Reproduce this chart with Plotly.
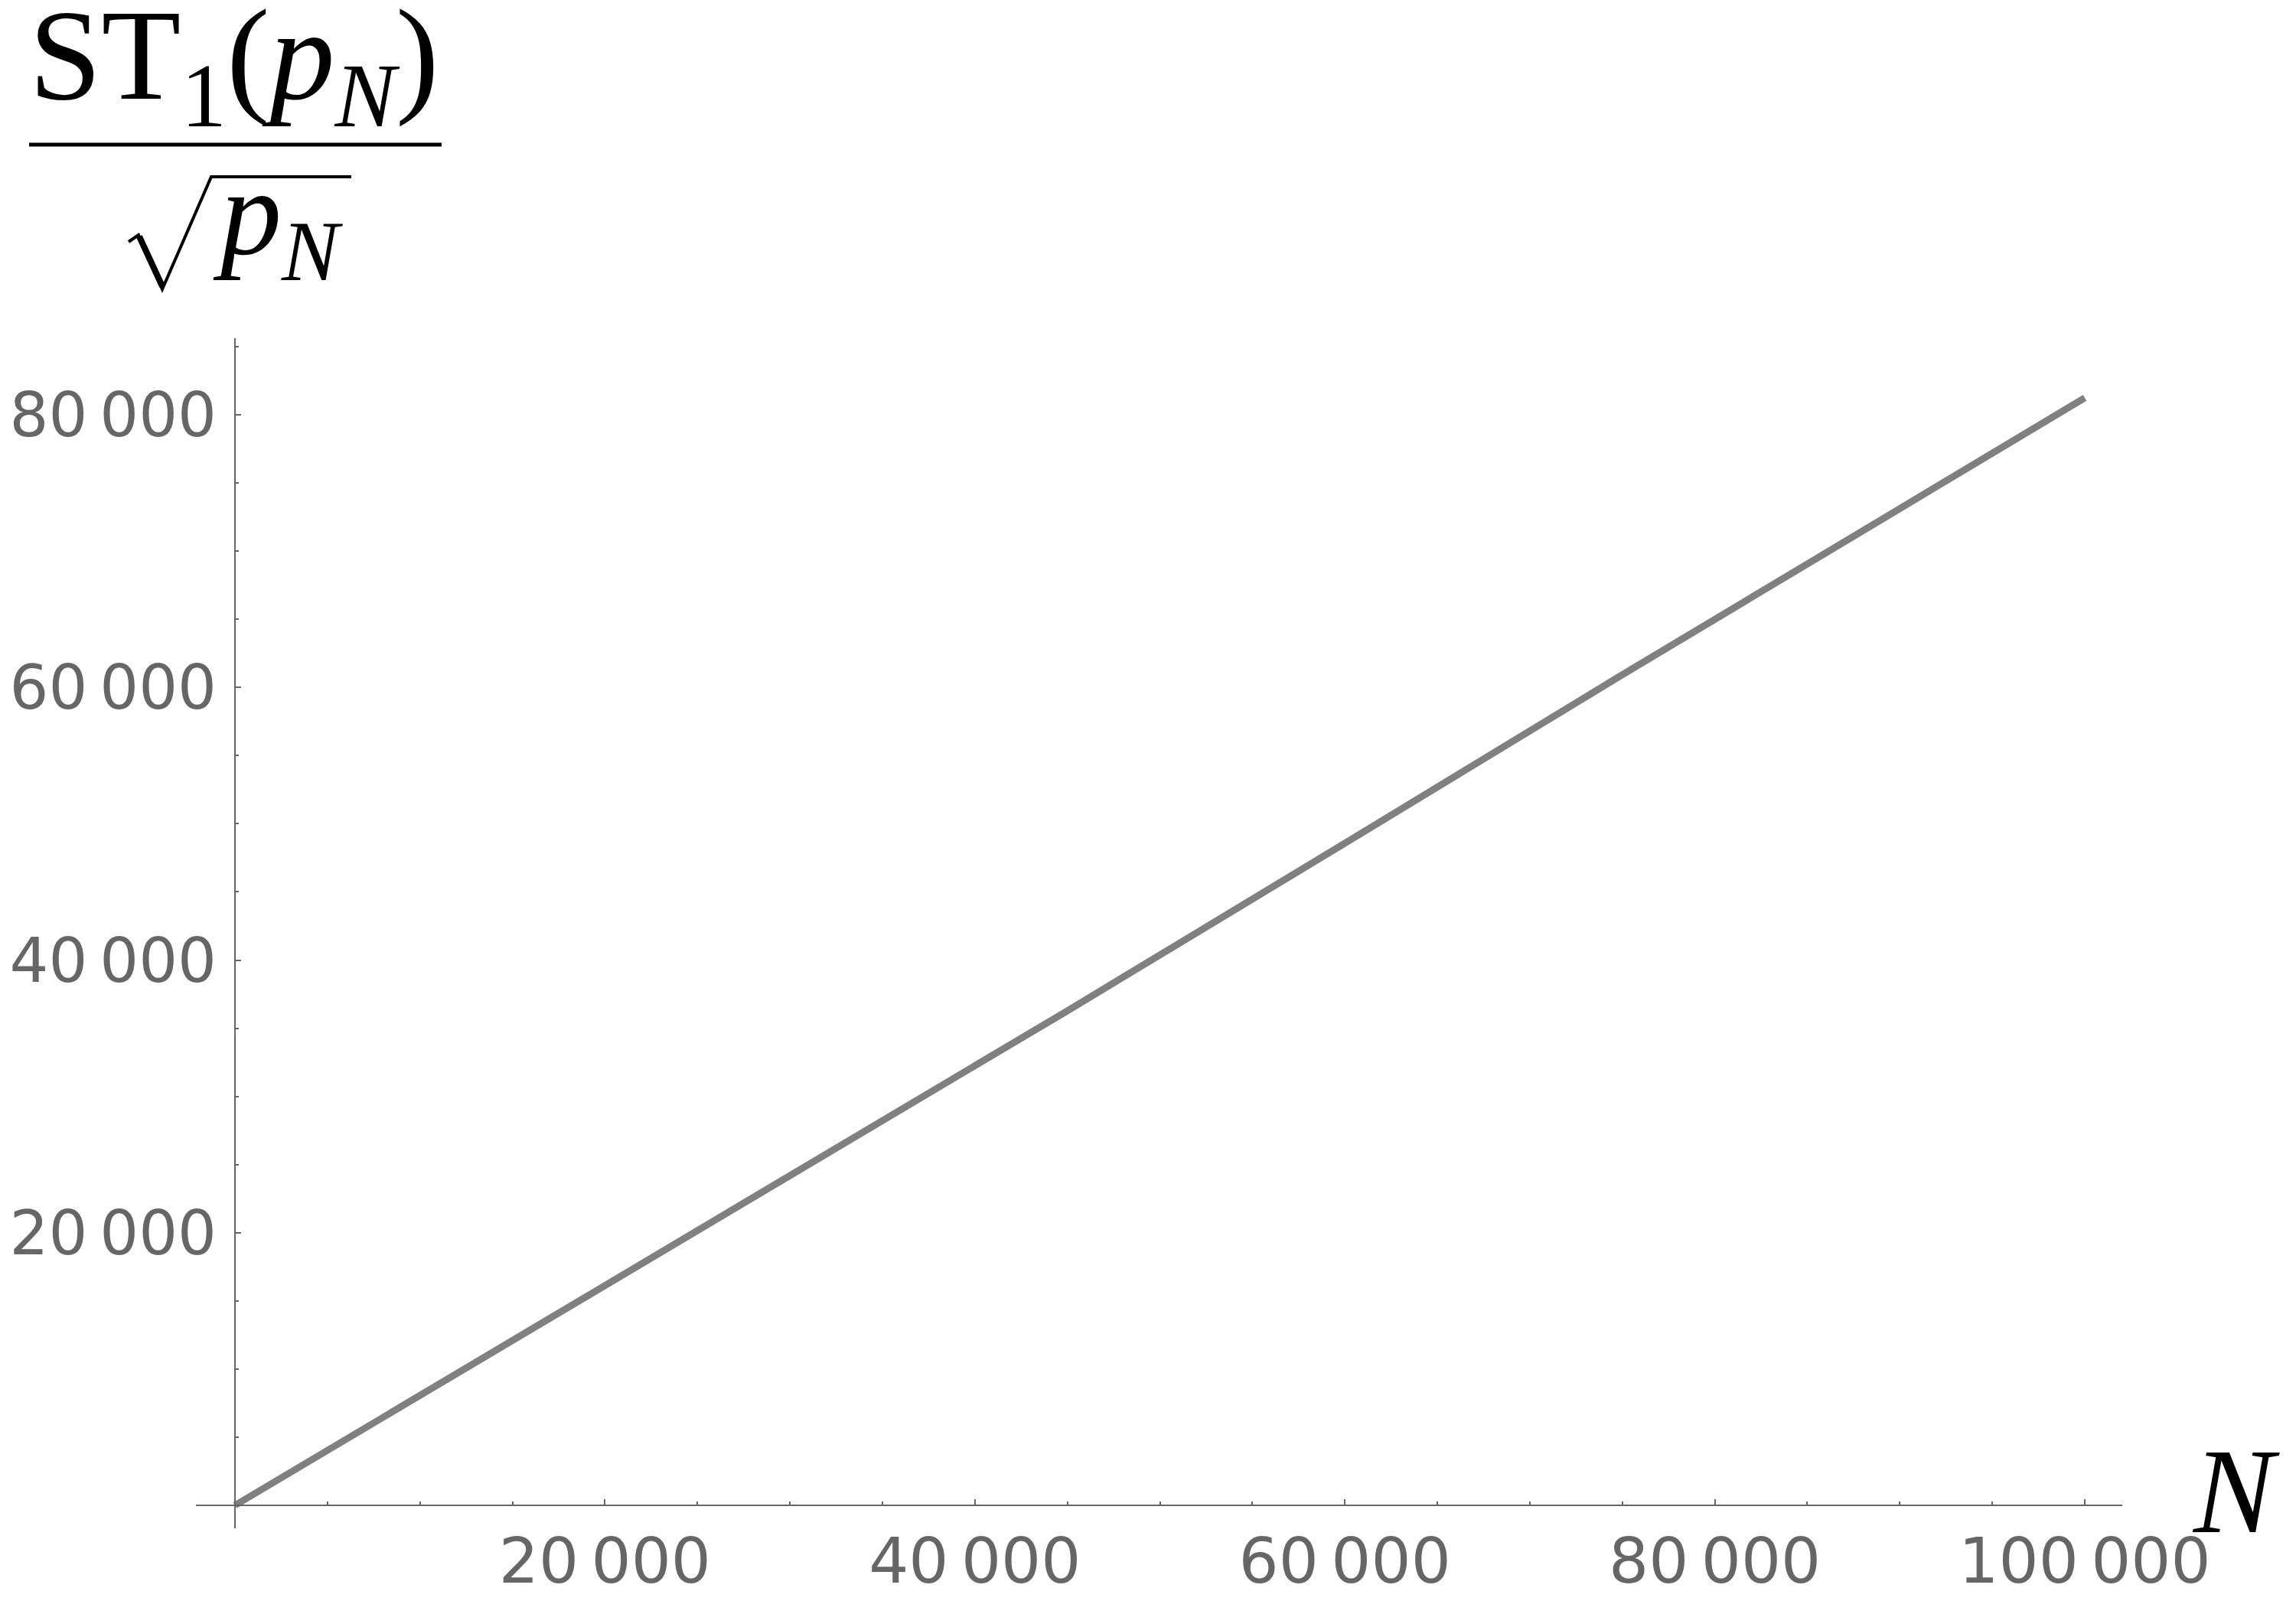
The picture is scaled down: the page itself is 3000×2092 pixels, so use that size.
import plotly.graph_objects as go

# Data (N vs ST_1(p_N)/sqrt(p_N))
n_vals = [0, 15000, 30000, 45000, 60000, 75000, 90000, 100000]
st_vals = [0, 12070, 24090, 36280, 48570, 60930, 73120, 81240]

x_ticks = [20000, 40000, 60000, 80000, 100000]
x_tick_text = ['20\u2009000', '40\u2009000', '60\u2009000', '80\u2009000', '100\u2009000']
y_ticks = [20000, 40000, 60000, 80000]
y_tick_text = ['20\u2009000', '40\u2009000', '60\u2009000', '80\u2009000']

W, H = 3000, 2092
OFF = 8  # default body margin of the html page
# plot area in page pixels
L, R, T, B = 256, 2773, 442, 1997
x_range = [-2110, 102027]
y_range = [-1684, 85614]

axis_col = '#666666'
serif = 'Liberation Serif, Times New Roman, serif'

# pixel -> paper helpers for the decorations (y label fraction, N label)
def px(x):
    return (x - L) / (R - L)

def py(y):
    return (B - y) / (B - T)

fig = go.Figure()
fig.add_trace(go.Scatter(x=n_vals, y=st_vals, mode='lines',
    line=dict(color='#808080', width=9), hoverinfo='skip', showlegend=False))

x_pos = (0 - x_range[0]) / (x_range[1] - x_range[0])
y_pos = (0 - y_range[0]) / (y_range[1] - y_range[0])

minor = dict(dtick=5000, tick0=0, ticks='inside', ticklen=4, tickwidth=2, tickcolor=axis_col)

fig.update_xaxes(range=x_range, anchor='free', position=y_pos, automargin=False,
    showgrid=False, zeroline=False, showline=True, linecolor=axis_col, linewidth=2,
    tickmode='array', tickvals=x_ticks, ticktext=x_tick_text,
    ticks='inside', ticklen=7, tickwidth=2, tickcolor=axis_col,
    ticklabelstandoff=2, tickfont=dict(family='DejaVu Sans', size=82, color=axis_col),
    minor=minor)
fig.update_yaxes(range=y_range, anchor='free', position=x_pos, automargin=False,
    showgrid=False, zeroline=False, showline=True, linecolor=axis_col, linewidth=2,
    tickmode='array', tickvals=y_ticks, ticktext=y_tick_text,
    ticks='inside', ticklen=7, tickwidth=2, tickcolor=axis_col,
    ticklabelstandoff=7, tickfont=dict(family='DejaVu Sans', size=80, color=axis_col),
    minor=minor)

# y label: ST_1(p_N) / sqrt(p_N)
annotations = [
    dict(text='ST<sub>1</sub>(<i>p</i><sub><i>N</i></sub>)', x=px(306), y=py(84),
         xref='paper', yref='paper', xanchor='center', yanchor='middle', showarrow=False,
         font=dict(family=serif, size=170, color='black')),
    dict(text='<i>p</i><sub><i>N</i></sub>', x=px(363), y=py(290),
         xref='paper', yref='paper', xanchor='center', yanchor='middle', showarrow=False,
         font=dict(family=serif, size=160, color='black')),
    dict(text='<i>N</i>', x=px(2921), y=py(1948),
         xref='paper', yref='paper', xanchor='center', yanchor='middle', showarrow=False,
         font=dict(family=serif, size=158, color='black')),
]

shapes = [
    # fraction bar
    dict(type='line', xref='paper', yref='paper', x0=px(38), x1=px(577), y0=py(189), y1=py(189),
         line=dict(color='black', width=5)),
    # radical sign + vinculum
    dict(type='path', xref='paper', yref='paper',
         path='M {:.5f},{:.5f} L {:.5f},{:.5f} L {:.5f},{:.5f} L {:.5f},{:.5f} L {:.5f},{:.5f}'.format(
             px(168), py(316), px(181), py(307), px(212), py(378), px(276), py(231), px(459), py(231)),
         line=dict(color='black', width=4)),
    dict(type='line', xref='paper', yref='paper', x0=px(182), x1=px(212), y0=py(309), y1=py(374),
         line=dict(color='black', width=8)),
]

fig.update_layout(width=W, height=H, plot_bgcolor='white', paper_bgcolor='white',
    margin=dict(l=L - OFF, r=W - R + OFF, t=T - OFF, b=H - B + OFF), showlegend=False,
    annotations=annotations, shapes=shapes)

fig.write_html('out.html')
